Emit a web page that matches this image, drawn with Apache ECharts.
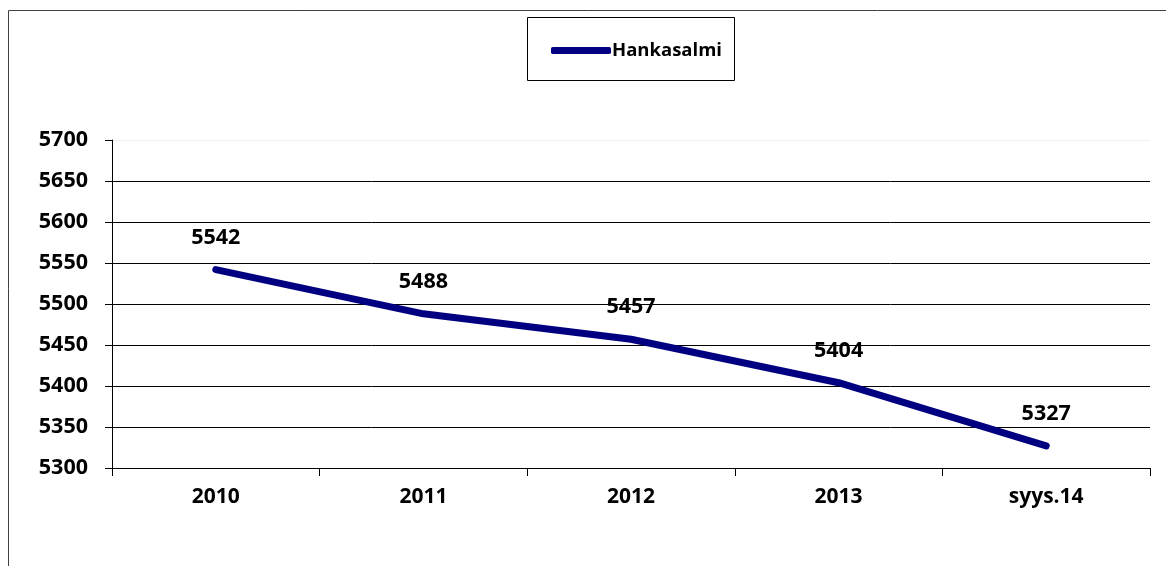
<!DOCTYPE html>
<html>
<head>
<meta charset="utf-8">
<script src="https://cdn.jsdelivr.net/npm/echarts@6/dist/echarts.min.js"></script>
<style>
  html, body { margin: 0; padding: 0; background: #fff; }
  #chart { width: 1166px; height: 566px; }
</style>
</head>
<body>
<div id="chart"></div>
<script>
const categories = ['2010', '2011', '2012', '2013', 'syys.14'];
const population = [5542, 5488, 5457, 5404, 5327];
const seriesName = 'Hankasalmi';

const font = '"Open Sans", Lato, sans-serif';
const chart = echarts.init(document.getElementById('chart'));

const option = {
  animation: false,
  backgroundColor: '#fff',
  graphic: [
    {
      type: 'rect',
      shape: { x: 8.5, y: 10.5, width: 1200, height: 600 },
      style: { fill: 'none', stroke: '#404040', lineWidth: 1 },
      silent: true,
    },
    {
      type: 'rect',
      shape: { x: 527.5, y: 17.5, width: 207, height: 63 },
      style: { fill: '#fff', stroke: '#000', lineWidth: 1 },
      silent: true,
    },
  ],
  legend: {
    data: [seriesName],
    left: 546,
    top: 36,
    icon: 'roundRect',
    itemWidth: 60,
    itemHeight: 7,
    itemGap: 0,
    textStyle: { fontFamily: font, fontWeight: 700, fontSize: 18.5, color: '#000', padding: [0, 0, 0, -4] },
  },
  grid: {
    left: 112,
    right: 16,
    top: 140,
    bottom: 98,
  },
  xAxis: {
    type: 'category',
    data: categories,
    boundaryGap: true,
    axisLine: { lineStyle: { color: '#000', width: 1 } },
    axisTick: { show: true, length: 8, lineStyle: { color: '#000' } },
    axisLabel: { fontFamily: font, fontWeight: 700, fontSize: 21, color: '#000', margin: 19 },
  },
  yAxis: {
    type: 'value',
    min: 5300,
    max: 5700,
    interval: 50,
    axisLine: { show: true, lineStyle: { color: '#000' } },
    axisTick: { show: true, length: 7, lineStyle: { color: '#000' } },
    axisLabel: {
      fontFamily: font, fontWeight: 700, fontSize: 21.5, color: '#000', margin: 24,
      formatter: v => String(v),
    },
    splitLine: {
      show: true,
      lineStyle: {
        color: ['#000', '#000', '#000', '#000', '#000', '#000', '#000', '#000', '#f0f0f0'],
        width: 1,
      },
    },
  },
  series: [
    {
      name: seriesName,
      type: 'line',
      data: population,
      showSymbol: true,
      symbol: 'circle',
      symbolSize: 0,
      lineStyle: { color: '#000080', width: 7, cap: 'round', join: 'round' },
      itemStyle: { color: '#000080' },
      label: {
        show: true,
        position: 'top',
        distance: 21,
        fontFamily: font,
        fontWeight: 700,
        fontSize: 21.5,
        color: '#000',
      },
    },
  ],
};

chart.setOption(option);
</script>
</body>
</html>
